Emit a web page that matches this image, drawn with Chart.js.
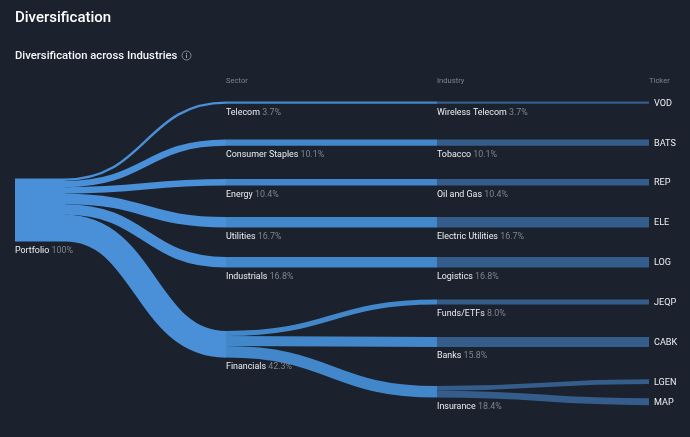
<!DOCTYPE html>
<html><head><meta charset="utf-8">
<style>
html,body{margin:0;padding:0;background:#1b222d;width:690px;height:437px;overflow:hidden;font-family:Roboto,sans-serif}
#c{position:absolute;left:0;top:0;width:690px;height:437px}
.t{position:absolute;left:15px;color:#fff;white-space:nowrap}
#h1{top:7.5px;font-size:15px;font-weight:500;line-height:19px}
#h2{top:47.5px;font-size:11.3px;font-weight:500;line-height:15px;color:#f4f5f6}
#i{position:absolute;left:181px;top:50px}
</style></head><body>
<canvas id="c" width="690" height="437"></canvas>
<div class="t" id="h1">Diversification</div>
<div class="t" id="h2">Diversification across Industries</div>
<svg id="i" width="11" height="11" viewBox="0 0 11 11"><circle cx="5.5" cy="5.5" r="4.5" fill="none" stroke="#9aa0a8" stroke-width="0.8"/><rect x="5" y="4.6" width="1" height="3.4" fill="#9aa0a8"/><rect x="5" y="3" width="1" height="1" fill="#9aa0a8"/></svg>
<script src="https://cdn.jsdelivr.net/npm/chart.js@4"></script>
<script>
// ---- data (percent of portfolio) ----
const rootName = "Portfolio";
const rootValue = 100;
const sectors = ["Telecom","Consumer Staples","Energy","Utilities","Industrials","Financials"];
const sectorValues = [3.7,10.1,10.4,16.7,16.8,42.3];
const industries = ["Wireless Telecom","Tobacco","Oil and Gas","Electric Utilities","Logistics","Funds/ETFs","Banks","Insurance"];
const industryValues = [3.7,10.1,10.4,16.7,16.8,8.0,15.8,18.4];
const industrySector = [0,1,2,3,4,5,5,5];
const tickers = ["VOD","BATS","REP","ELE","LOG","JEQP","CABK","LGEN","MAP"];
const tickerValues = [3.7,10.1,10.4,16.7,16.8,8.0,15.8,7.5,10.9];
const tickerIndustry = [0,1,2,3,4,5,6,7,7];
const columnTitles = ["Sector","Industry","Ticker"];

// ---- layout, in axis units (1 y unit = 1 % of thickness) ----
const yMax = 693.65, xMax = 690;
const rootTop = 283.3;
const sectorTops = [161,221.4,284.1,344.4,407.9,525.4];
const industryTops = [161,221.4,284.1,344.4,407.9,475.4,534.9,612.7];
const tickerTops = [161,221.4,284.1,344.4,407.9,475.4,534.9,602,632.2];
const X = {rootL:15, root:65, sector:226, industry:437, ticker:649};
const C = {a:"#4a90d9", b:"#4387cb", c:"#345d8b", name:"#eceef0", pct:"#7f858d", head:"#7f858d"};
const unitPx = 437 / yMax;

const datasets = [];
function link(x0,x1,y0,y1,v,color){
  datasets.push({data:[{x:x0,y:y0},{x:x1,y:y1}],borderWidth:v*unitPx,borderColor:color,
    pointRadius:0,tension:0.4,fill:false,borderCapStyle:"butt"});
}
function fan(values,parents,parentTops,tops,x0,x1,color){
  const used = {};
  values.forEach((v,i)=>{
    const p = parents(i); used[p] = used[p]||0;
    link(x0,x1,parentTops[p]+used[p]+v/2,tops[i]+v/2,v,color);
    used[p]+=v;
  });
}
link(X.rootL,X.root,rootTop+rootValue/2,rootTop+rootValue/2,rootValue,C.a);
fan(sectorValues,()=>0,[rootTop],sectorTops,X.root,X.sector,C.a);
fan(industryValues,i=>industrySector[i],sectorTops,industryTops,X.sector,X.industry,C.b);
fan(tickerValues,i=>tickerIndustry[i],industryTops,tickerTops,X.industry,X.ticker,C.c);

const sankeyCurves = {
  id:"sankeyCurves",
  afterDatasetsUpdate(chart){
    chart.getSortedVisibleDatasetMetas().forEach(m=>{
      m.dataset.updateControlPoints(chart.chartArea);
      const [a,b]=m.data, mid=(a.x+b.x)/2;
      a.cp2x=mid;a.cp2y=a.y;b.cp1x=mid;b.cp1y=b.y;
    });
  },
  afterDatasetsDraw(chart){
    const ctx=chart.ctx,sx=chart.scales.x,sy=chart.scales.y;
    ctx.save();
    ctx.textBaseline="middle";ctx.textAlign="left";
    const F="400 8.9px Roboto";
    const nodeLabel=(name,val,x,bottom)=>{
      const px=sx.getPixelForValue(x),py=sy.getPixelForValue(bottom)+9;
      ctx.font=F;ctx.fillStyle=C.name;ctx.fillText(name,px,py);
      const w=ctx.measureText(name+" ").width;
      ctx.fillStyle=C.pct;ctx.fillText(val,px+w,py);
    };
    nodeLabel(rootName,rootValue+"%",X.rootL,rootTop+rootValue);
    sectors.forEach((n,i)=>nodeLabel(n,sectorValues[i].toFixed(1)+"%",X.sector,sectorTops[i]+sectorValues[i]));
    industries.forEach((n,i)=>nodeLabel(n,industryValues[i].toFixed(1)+"%",X.industry,industryTops[i]+industryValues[i]));
    ctx.font="400 9.1px Roboto";ctx.fillStyle=C.name;
    tickers.forEach((n,i)=>ctx.fillText(n,sx.getPixelForValue(X.ticker)+5,sy.getPixelForValue(tickerTops[i]+tickerValues[i]/2)+0.8));
    ctx.font="400 7.6px Roboto";ctx.fillStyle=C.head;
    [X.sector,X.industry,X.ticker].forEach((x,i)=>ctx.fillText(columnTitles[i],sx.getPixelForValue(x),81));
    ctx.restore();
  }
};

new Chart(document.getElementById("c"),{
  type:"line",
  data:{datasets},
  plugins:[sankeyCurves],
  options:{
    responsive:false,animation:false,events:[],devicePixelRatio:1,
    layout:{padding:0},
    plugins:{legend:{display:false},tooltip:{enabled:false},title:{display:false}},
    scales:{
      x:{type:"linear",min:0,max:xMax,display:false},
      y:{type:"linear",min:0,max:yMax,reverse:true,display:false}
    }
  }
});
</script>
</body></html>
